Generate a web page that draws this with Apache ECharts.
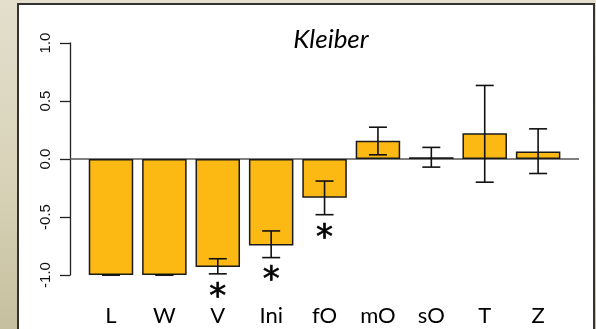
<!DOCTYPE html>
<html>
<head>
<meta charset="utf-8">
<script src="https://cdn.jsdelivr.net/npm/echarts@6/dist/echarts.min.js"></script>
<style>
  html, body { margin: 0; padding: 0; }
  body {
    width: 596px; height: 329px; overflow: hidden; position: relative;
    background: linear-gradient(to bottom, #e3dfcc 0%, #d8d2b8 55%, #c6bf9e 100%);
  }
  #panel {
    position: absolute; left: 17px; top: 3px; width: 578px; height: 340px;
    box-sizing: border-box; background: #ffffff; border: 2px solid #333333;
  }
  #chart { position: absolute; left: 0; top: 0; width: 596px; height: 329px; }
</style>
</head>
<body>
<div id="panel"></div>
<div id="chart"></div>
<script>
// Kleiber: mean effect per trait with error bars, * marks significant traits
const categories = ['L', 'W', 'V', 'Ini', 'fO', 'mO', 'sO', 'T', 'Z'];
const means      = [-1.0, -1.0, -0.93, -0.745, -0.335, 0.157, 0.015, 0.222, 0.065];
const errLower   = [-1.0, -1.0, -0.99, -0.85, -0.48, 0.036, -0.07, -0.20, -0.125];
const errUpper   = [-1.0, -1.0, -0.86, -0.62, -0.19, 0.274, 0.10, 0.634, 0.26];
const significant = [false, false, true, true, true, false, false, false, false];
const yTicks = { min: -1, max: 1, interval: 0.5 };
const baseline = 0;

const errData = categories.map((c, i) => [i, errLower[i], errUpper[i]]);
const starData = categories.map((c, i) => [i, errLower[i]]).filter((d, i) => significant[i]);

const chart = echarts.init(document.getElementById('chart'), null, { renderer: 'canvas' });

chart.setOption({
  backgroundColor: 'transparent',
  animation: false,
  title: {
    text: 'Kleiber',
    left: 331, top: 27, padding: 0,
    textAlign: 'center',
    textStyle: { fontFamily: 'Lato', fontStyle: 'italic', fontWeight: 'normal', fontSize: 26, color: '#000' }
  },
  grid: [
    { left: 84.3, right: 31.2, top: 43, bottom: 54 },
    { left: 70, right: 17, top: 43, bottom: 54 }
  ],
  xAxis: [
    {
      type: 'category', data: categories, gridIndex: 0,
      axisLine: { show: false }, axisTick: { show: false },
      axisLabel: { margin: 30, fontFamily: 'Lato', fontSize: 22, color: '#000' }
    },
    { type: 'value', gridIndex: 1, min: 0, max: 1, show: false }
  ],
  yAxis: [
    {
      type: 'value', gridIndex: 0, min: yTicks.min, max: yTicks.max, interval: yTicks.interval,
      offset: 14.3,
      axisLine: { show: true, lineStyle: { color: '#222', width: 1.3 } },
      axisTick: { show: true, length: 10, lineStyle: { color: '#222', width: 1.3 } },
      splitLine: { show: false },
      axisLabel: {
        rotate: 90, margin: 17,
        fontFamily: 'Liberation Sans', fontSize: 15, color: '#111',
        formatter: v => v.toFixed(1)
      }
    },
    { type: 'value', gridIndex: 1, min: yTicks.min, max: yTicks.max, show: false }
  ],
  series: [
    {
      type: 'line', xAxisIndex: 1, yAxisIndex: 1, z: 1,
      data: [[0, baseline], [1, baseline]],
      symbol: 'none', silent: true,
      lineStyle: { color: '#555', width: 1.5 }
    },
    {
      type: 'bar', xAxisIndex: 0, yAxisIndex: 0, z: 2,
      data: means, barWidth: 44.5,
      itemStyle: { color: '#fcb813', borderColor: '#1a1a1a', borderWidth: 1.5 }
    },
    {
      type: 'custom', xAxisIndex: 0, yAxisIndex: 0, z: 3,
      data: errData,
      encode: { x: 0, y: [1, 2] },
      renderItem: function (params, api) {
        const i = api.value(0);
        const lo = api.coord([i, api.value(1)]);
        const hi = api.coord([i, api.value(2)]);
        const cap = 9;
        const style = { stroke: '#111', lineWidth: 1.6 };
        return {
          type: 'group',
          children: [
            { type: 'line', shape: { x1: lo[0], y1: lo[1], x2: hi[0], y2: hi[1] }, style },
            { type: 'line', shape: { x1: hi[0] - cap, y1: hi[1], x2: hi[0] + cap, y2: hi[1] }, style },
            { type: 'line', shape: { x1: lo[0] - cap, y1: lo[1], x2: lo[0] + cap, y2: lo[1] }, style }
          ]
        };
      }
    },
    {
      type: 'custom', xAxisIndex: 0, yAxisIndex: 0, z: 3,
      data: starData,
      encode: { x: 0, y: 1 },
      renderItem: function (params, api) {
        const p = api.coord([api.value(0), api.value(1)]);
        return {
          type: 'text',
          style: {
            x: p[0], y: p[1] + 7, text: '*',
            fill: '#000', stroke: '#000', lineWidth: 0.7,
            font: '34px "DejaVu Sans"',
            textAlign: 'center', textVerticalAlign: 'top'
          }
        };
      }
    }
  ]
});
</script>
</body>
</html>
